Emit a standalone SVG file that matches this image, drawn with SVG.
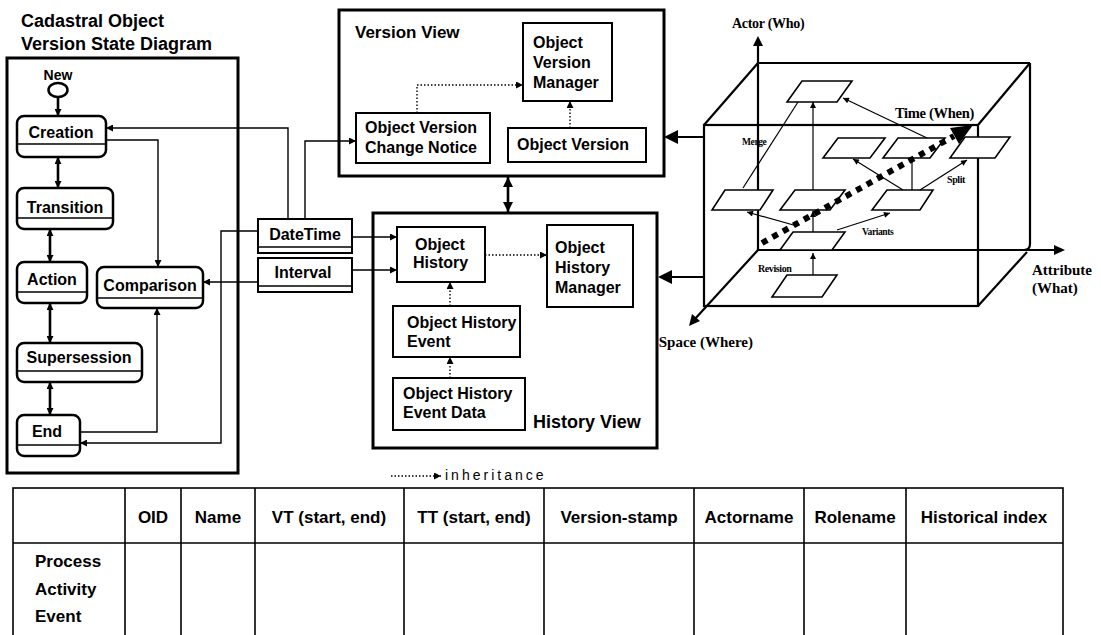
<svg xmlns="http://www.w3.org/2000/svg" width="1101" height="635" viewBox="0 0 1101 635">
<style>
.t{font-family:"Liberation Sans",Arial,sans-serif;font-weight:bold;fill:#000}
.s{font-family:"Liberation Serif","Times New Roman",serif;font-weight:bold;fill:#000}
.box{fill:#fff;stroke:#000;stroke-width:2}
.view{fill:none;stroke:#000;stroke-width:3}
.st{fill:#fff;stroke:#000;stroke-width:2.5}
.ln{fill:none;stroke:#000;stroke-width:1.4}
.dot{fill:none;stroke:#000;stroke-width:1.4;stroke-dasharray:1.5 2}
.thk{fill:none;stroke:#000;stroke-width:2.6}
.cb{fill:none;stroke:#000;stroke-width:2.2}
.pg{fill:#fff;stroke:#000;stroke-width:1.6}
.th{fill:none;stroke:#000;stroke-width:1.2}
</style>
<defs>
<marker id="a" viewBox="0 0 10 10" refX="10" refY="5" markerUnits="userSpaceOnUse" markerWidth="8" markerHeight="7" orient="auto-start-reverse"><path d="M0,0L10,5L0,10z" fill="#000"/></marker>
<marker id="ab" viewBox="0 0 10 10" refX="10" refY="5" markerUnits="userSpaceOnUse" markerWidth="10" markerHeight="10" orient="auto-start-reverse"><path d="M0,0L10,5L0,10z" fill="#000"/></marker>
<marker id="as" viewBox="0 0 10 10" refX="10" refY="5" markerUnits="userSpaceOnUse" markerWidth="7" markerHeight="6" orient="auto-start-reverse"><path d="M0,0L10,5L0,10z" fill="#000"/></marker>
</defs>
<rect width="1101" height="635" fill="#fff"/>

<!-- Title -->
<g id="title">
<text class="t" x="21" y="27" font-size="18">Cadastral Object</text>
<text class="t" x="21" y="50" font-size="18">Version State Diagram</text>
</g>
<g id="state-frame"><rect x="7" y="58" width="231" height="415" class="view"/></g>

<!-- State nodes -->
<g id="new"><text class="t" x="58" y="80" font-size="14" text-anchor="middle">New</text><ellipse cx="58" cy="90" rx="9.5" ry="7" fill="#fff" stroke="#000" stroke-width="2.5"/></g>
<g id="creation"><rect x="17" y="116" width="89" height="41" rx="7" class="st"/><line x1="17" y1="144" x2="106" y2="144" class="ln"/><text class="t" x="61" y="138" font-size="16" text-anchor="middle">Creation</text></g>
<g id="transition"><rect x="17" y="188" width="96" height="41" rx="7" class="st"/><line x1="17" y1="218" x2="113" y2="218" class="ln"/><text class="t" x="65" y="213" font-size="16" text-anchor="middle">Transition</text></g>
<g id="action"><rect x="17" y="262" width="70" height="41" rx="7" class="st"/><line x1="17" y1="292" x2="87" y2="292" class="ln"/><text class="t" x="52" y="285" font-size="16" text-anchor="middle">Action</text></g>
<g id="comparison"><rect x="97" y="267" width="106" height="41" rx="7" class="st"/><line x1="97" y1="298" x2="203" y2="298" class="ln"/><text class="t" x="150" y="291" font-size="16" text-anchor="middle">Comparison</text></g>
<g id="supersession"><rect x="17" y="343" width="125" height="39" rx="7" class="st"/><line x1="17" y1="371" x2="142" y2="371" class="ln"/><text class="t" x="79" y="363" font-size="16" text-anchor="middle">Supersession</text></g>
<g id="end"><rect x="17" y="415" width="63" height="41" rx="7" class="st"/><line x1="17" y1="445" x2="80" y2="445" class="ln"/><text class="t" x="47" y="437" font-size="16" text-anchor="middle">End</text></g>

<!-- Time classes -->
<g id="datetime"><rect x="258" y="219" width="94" height="34" class="box"/><line x1="258" y1="247" x2="352" y2="247" class="ln"/><text class="t" x="305" y="240" font-size="16" text-anchor="middle">DateTime</text></g>
<g id="interval"><rect x="258" y="258" width="94" height="34" class="box"/><line x1="258" y1="286" x2="352" y2="286" class="ln"/><text class="t" x="303" y="278" font-size="16" text-anchor="middle">Interval</text></g>

<!-- Version View -->
<g id="version-view">
<rect x="339" y="10" width="325" height="166" class="view"/>
<text class="t" x="355" y="38" font-size="17">Version View</text>
</g>
<g id="object-version-manager"><rect x="523" y="23" width="89" height="78" class="box"/>
<text class="t" x="533" y="48" font-size="16">Object</text><text class="t" x="533" y="68" font-size="16">Version</text><text class="t" x="533" y="88" font-size="16">Manager</text></g>
<g id="object-version-change-notice"><rect x="356" y="113" width="134" height="50" class="box"/>
<text class="t" x="365" y="133" font-size="16">Object Version</text><text class="t" x="365" y="153" font-size="16">Change Notice</text></g>
<g id="object-version"><rect x="508" y="128" width="138" height="34" class="box"/><text class="t" x="517" y="150" font-size="16">Object Version</text></g>

<!-- History View -->
<g id="history-view">
<rect x="373" y="213" width="284" height="235" class="view"/>
<text class="t" x="533" y="428" font-size="18">History View</text>
</g>
<g id="object-history"><rect x="397" y="227" width="88" height="55" class="box"/>
<text class="t" x="415" y="250" font-size="16">Object</text><text class="t" x="413" y="268" font-size="16">History</text></g>
<g id="object-history-manager"><rect x="547" y="225" width="86" height="82" class="box"/>
<text class="t" x="555" y="253" font-size="16">Object</text><text class="t" x="555" y="273" font-size="16">History</text><text class="t" x="555" y="293" font-size="16">Manager</text></g>
<g id="object-history-event"><rect x="393" y="306" width="127" height="51" class="box"/>
<text class="t" x="407" y="328" font-size="16">Object History</text><text class="t" x="407" y="347" font-size="16">Event</text></g>
<g id="object-history-event-data"><rect x="393" y="378" width="132" height="52" class="box"/>
<text class="t" x="403" y="399" font-size="16">Object History</text><text class="t" x="403" y="418" font-size="16">Event Data</text></g>

<!-- Legend -->
<g id="legend">
<line x1="391" y1="476" x2="441" y2="476" class="dot" marker-end="url(#a)"/>
<text x="445" y="480" font-family="'Liberation Sans',Arial,sans-serif" font-size="14" letter-spacing="3">inheritance</text>
</g>

<!-- Connectors -->
<g id="connectors">
<line x1="58" y1="97" x2="58" y2="116" class="thk" marker-end="url(#a)"/>
<line x1="58" y1="157" x2="58" y2="188" class="thk" marker-start="url(#a)" marker-end="url(#a)"/>
<line x1="50" y1="229" x2="50" y2="262" class="thk" marker-start="url(#a)" marker-end="url(#a)"/>
<line x1="50" y1="303" x2="50" y2="343" class="thk" marker-start="url(#a)" marker-end="url(#a)"/>
<line x1="50" y1="382" x2="50" y2="415" class="thk" marker-start="url(#a)" marker-end="url(#a)"/>
<polyline points="106,140 158,140 158,267" class="ln" marker-end="url(#a)"/>
<polyline points="80,432 157,432 157,308" class="ln" marker-end="url(#a)"/>
<polyline points="288,219 288,128 106,128" class="ln" marker-end="url(#a)"/>
<polyline points="305,219 305,141 356,141" class="ln" marker-end="url(#a)"/>
<polyline points="258,231 221,231 221,443 80,443" class="ln" marker-end="url(#a)"/>
<polyline points="258,282 203,282" class="ln" marker-end="url(#a)"/>
<polyline points="352,237 397,237" class="ln" marker-end="url(#a)"/>
<polyline points="352,270 397,270" class="ln" marker-end="url(#a)"/>
<polyline points="417,113 417,85 523,85" class="dot" marker-end="url(#a)"/>
<line x1="570" y1="128" x2="570" y2="101" class="dot" marker-end="url(#a)"/>
<line x1="485" y1="255" x2="547" y2="255" class="dot" marker-end="url(#a)"/>
<line x1="450" y1="306" x2="450" y2="282" class="dot" marker-end="url(#a)"/>
<line x1="450" y1="378" x2="450" y2="357" class="dot" marker-end="url(#a)"/>
<line x1="508" y1="177" x2="508" y2="212" class="thk" marker-start="url(#ab)" marker-end="url(#ab)"/>
<line x1="704" y1="137" x2="676" y2="137" stroke="#000" stroke-width="2"/>
<polygon points="664,137 678,130 678,144" fill="#000"/>
<line x1="704" y1="277" x2="670" y2="277" stroke="#000" stroke-width="2"/>
<polygon points="658,277 672,270 672,284" fill="#000"/>
</g>

<!-- Cube -->
<g id="cube">
<line x1="758" y1="250" x2="758" y2="43" class="cb"/>
<polygon points="758,36 753,46 763,46" fill="#000"/>
<line x1="758" y1="63" x2="1030" y2="63" class="cb"/>
<path d="M1030,63 L1030,244 Q1030,250 1024,250" class="cb"/>
<line x1="758" y1="250" x2="1056" y2="250" class="cb"/>
<polygon points="1065,250 1054,245 1054,255" fill="#000"/>
<line x1="758" y1="63" x2="704" y2="125" class="cb"/>
<line x1="1030" y1="63" x2="978" y2="125" class="cb"/>
<line x1="1027" y1="252" x2="978" y2="306" class="cb"/>
<rect x="704" y="125" width="274" height="181" class="cb"/>
<line x1="758" y1="250" x2="694" y2="320" class="cb"/>
<polygon points="689,326 692,314 700,321" fill="#000"/>
<polygon points="787,102 802,81 852,81 837,102" class="pg"/>
<polygon points="823,158 838,138 885,138 870,158" class="pg"/>
<polygon points="883,158 898,138 945,138 930,158" class="pg"/>
<polygon points="950,158 965,137 1010,137 995,158" class="pg"/>
<polygon points="712,210 725,190 773,190 760,210" class="pg"/>
<polygon points="780,210 795,190 845,190 830,210" class="pg"/>
<polygon points="872,210 887,190 933,190 920,210" class="pg"/>
<polygon points="780,250 793,232 845,232 832,250" class="pg"/>
<polygon points="772,297 787,275 837,275 822,297" class="pg"/>
<line x1="743" y1="188" x2="798" y2="102" class="th"/>
<line x1="813" y1="190" x2="813" y2="102" class="th" marker-end="url(#as)"/>
<line x1="813" y1="232" x2="813" y2="211" class="th" marker-end="url(#as)"/>
<line x1="813" y1="275" x2="813" y2="253" class="th" marker-end="url(#as)"/>
<line x1="927" y1="138" x2="843" y2="98" class="th" marker-end="url(#as)"/>
<line x1="903" y1="190" x2="853" y2="159" class="th" marker-end="url(#as)"/>
<line x1="912" y1="190" x2="912" y2="158" class="th"/>
<line x1="920" y1="190" x2="967" y2="160" class="th" marker-end="url(#as)"/>
<line x1="797" y1="226" x2="747" y2="212" class="th" marker-end="url(#as)"/>
<line x1="837" y1="230" x2="890" y2="213" class="th" marker-end="url(#as)"/>
<line x1="762" y1="243" x2="954" y2="136" stroke="#000" stroke-width="6" stroke-dasharray="6 6"/>
<polygon points="973,125 959,144 950,128" fill="#000"/>
<text class="s" x="732" y="28" font-size="14" letter-spacing="-0.3">Actor (Who)</text>
<text class="s" x="895" y="118" font-size="14.5" letter-spacing="-0.3">Time (When)</text>
<text class="s" x="1032" y="275" font-size="15">Attribute</text>
<text class="s" x="1032" y="293" font-size="15">(What)</text>
<text class="s" x="753" y="347" font-size="15" text-anchor="end">Space (Where)</text>
<text class="s" x="742" y="145" font-size="9.5" letter-spacing="-0.4">Merge</text>
<text class="s" x="947" y="183" font-size="10" letter-spacing="-0.4">Split</text>
<text class="s" x="862" y="235" font-size="9.5" letter-spacing="-0.4">Variants</text>
<text class="s" x="758" y="272" font-size="10" letter-spacing="-0.4">Revision</text>
</g>

<!-- Table -->
<g id="table">
<rect x="13" y="488" width="1050" height="152" fill="none" stroke="#000" stroke-width="1.6"/>
<line x1="13" y1="543" x2="1063" y2="543" stroke="#000" stroke-width="1.6"/>
<g stroke="#000" stroke-width="1.6">
<line x1="125" y1="488" x2="125" y2="635"/><line x1="181" y1="488" x2="181" y2="635"/>
<line x1="255" y1="488" x2="255" y2="635"/><line x1="404" y1="488" x2="404" y2="635"/>
<line x1="544" y1="488" x2="544" y2="635"/><line x1="694" y1="488" x2="694" y2="635"/>
<line x1="804" y1="488" x2="804" y2="635"/><line x1="906" y1="488" x2="906" y2="635"/>
</g>
<g class="t" font-size="17" text-anchor="middle">
<text x="153" y="523">OID</text><text x="218" y="523">Name</text>
<text x="329" y="523">VT (start, end)</text><text x="474" y="523">TT (start, end)</text>
<text x="619" y="523">Version-stamp</text><text x="749" y="523">Actorname</text>
<text x="855" y="523">Rolename</text><text x="984" y="523">Historical index</text>
</g>
<text class="t" x="35" y="567" font-size="17">Process</text>
<text class="t" x="35" y="595" font-size="17">Activity</text>
<text class="t" x="35" y="622" font-size="17">Event</text>
</g>
</svg>
